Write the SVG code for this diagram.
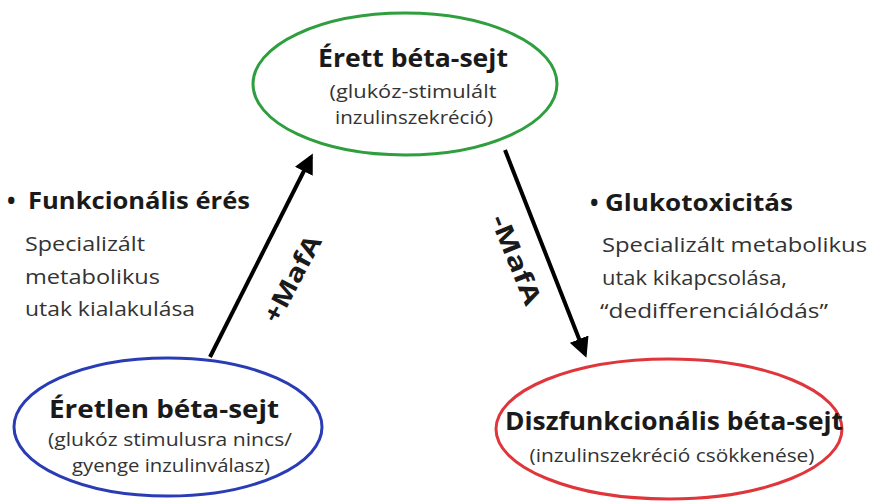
<svg xmlns="http://www.w3.org/2000/svg" width="870" height="504" viewBox="0 0 870 504">
<style>
.t{font-family:"Open Sans","Liberation Sans",sans-serif;fill:#1a1a1a}
.ttl{font-size:25.5px;font-weight:bold;text-anchor:middle}
.sub{font-size:18px;text-anchor:middle;fill:#333}
.body{font-size:20px;fill:#333}
.head{font-size:22.5px;font-weight:bold}
.lbl{font-size:25px;font-weight:bold;text-anchor:middle}
.conn{stroke:#000;stroke-width:4;fill:none;marker-end:url(#ah)}
</style>
<defs>
<marker id="ah" markerWidth="5" markerHeight="5" refX="4" refY="2.5" orient="auto" markerUnits="strokeWidth">
<path d="M0,0 L5,2.5 L0,5 Z" fill="#000"/>
</marker>
</defs>
<rect width="870" height="504" fill="#fff"/>
<g id="connectors">
<line class="conn" x1="210" y1="357" x2="311" y2="157"/>
<line class="conn" x1="505" y1="150" x2="585" y2="354"/>
<text class="t lbl" transform="translate(300,283) rotate(-62)" textLength="95" lengthAdjust="spacingAndGlyphs">+MafA</text>
<text class="t lbl" transform="translate(508,263) rotate(68)" textLength="95" lengthAdjust="spacingAndGlyphs">-MafA</text>
</g>
<g id="erett">
<ellipse cx="405" cy="84" rx="152" ry="71" fill="none" stroke="#2e9e3e" stroke-width="3"/>
<text class="t ttl" x="413" y="67" textLength="190" lengthAdjust="spacingAndGlyphs">Érett béta-sejt</text>
<text class="t sub" x="413" y="98" textLength="167" lengthAdjust="spacingAndGlyphs">(glukóz-stimulált</text>
<text class="t sub" x="414" y="124" textLength="158" lengthAdjust="spacingAndGlyphs">inzulinszekréció)</text>
</g>
<g id="eretlen">
<ellipse cx="168" cy="427" rx="154" ry="69" fill="none" stroke="#2a3cb5" stroke-width="3"/>
<text class="t ttl" x="164" y="418" textLength="230" lengthAdjust="spacingAndGlyphs">Éretlen béta-sejt</text>
<text class="t sub" x="170" y="446" textLength="244" lengthAdjust="spacingAndGlyphs">(glukóz stimulusra nincs/</text>
<text class="t sub" x="171" y="472" textLength="198" lengthAdjust="spacingAndGlyphs">gyenge inzulinválasz)</text>
</g>
<g id="diszfunkcionalis">
<ellipse cx="669" cy="429" rx="173" ry="70" fill="none" stroke="#e0353a" stroke-width="3"/>
<text class="t ttl" x="674" y="430" textLength="338" lengthAdjust="spacingAndGlyphs">Diszfunkcionális béta-sejt</text>
<text class="t sub" x="672" y="462" textLength="285" lengthAdjust="spacingAndGlyphs">(inzulinszekréció csökkenése)</text>
</g>
<g id="funkcionalis">
<text class="t head" x="7" y="209">•</text>
<text class="t head" x="28" y="209" textLength="222" lengthAdjust="spacingAndGlyphs">Funkcionális érés</text>
<text class="t body" x="25" y="251" textLength="120" lengthAdjust="spacingAndGlyphs">Specializált</text>
<text class="t body" x="25" y="284" textLength="135" lengthAdjust="spacingAndGlyphs">metabolikus</text>
<text class="t body" x="25" y="316" textLength="170" lengthAdjust="spacingAndGlyphs">utak kialakulása</text>
</g>
<g id="glukotoxicitas">
<text class="t head" x="590" y="211">•</text>
<text class="t head" x="605" y="211" textLength="188" lengthAdjust="spacingAndGlyphs">Glukotoxicitás</text>
<text class="t body" x="602" y="252" textLength="265" lengthAdjust="spacingAndGlyphs">Specializált metabolikus</text>
<text class="t body" x="602" y="285" textLength="185" lengthAdjust="spacingAndGlyphs">utak kikapcsolása,</text>
<text class="t body" x="600" y="318" textLength="228" lengthAdjust="spacingAndGlyphs">“dedifferenciálódás”</text>
</g>
</svg>
